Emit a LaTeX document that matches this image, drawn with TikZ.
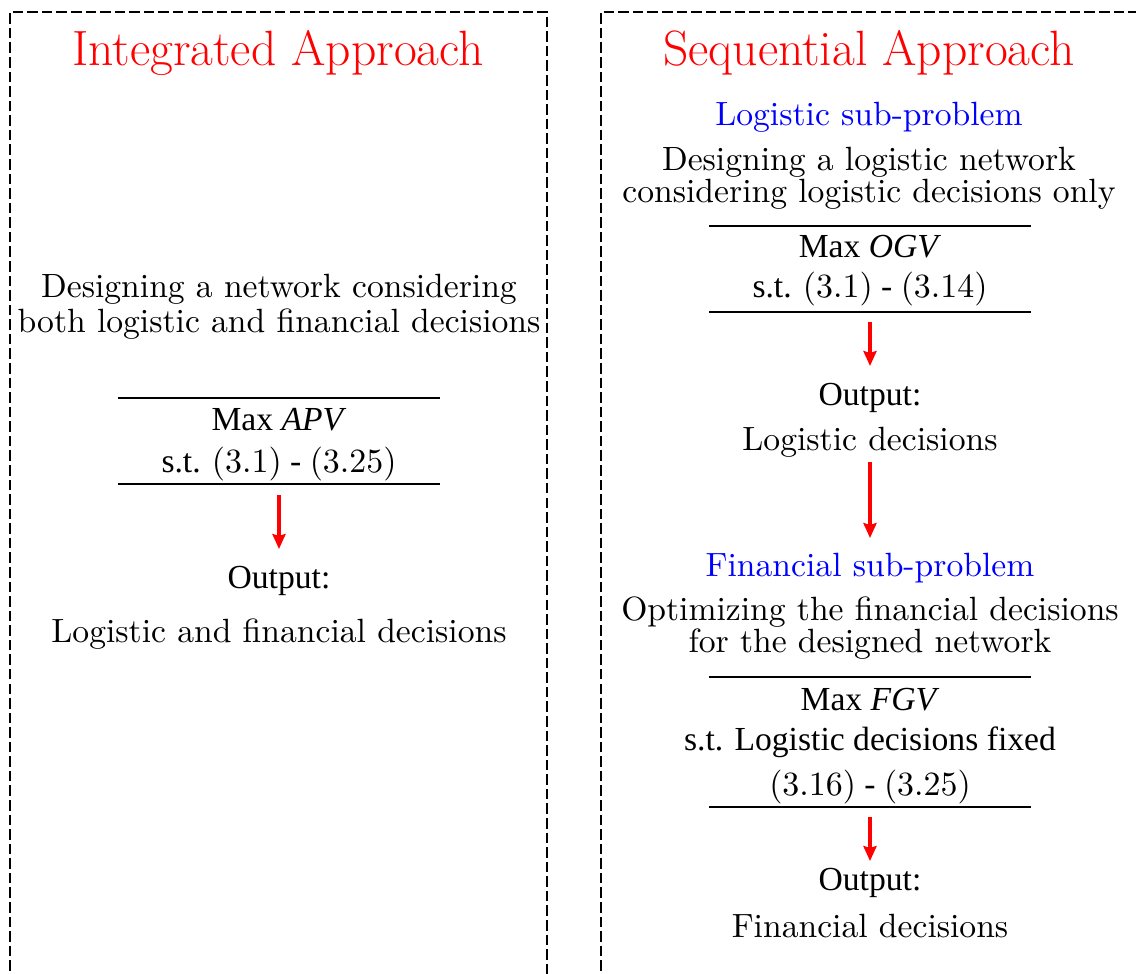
\documentclass[tikz,border=0pt]{standalone}
\usepackage{fontspec}
\newfontfamily\tms{Liberation Serif}
\usetikzlibrary{arrows.meta}
\tikzset{
  frame/.style={draw=black, line width=0.85pt, dash pattern=on 3.4pt off 1.3pt},
  ttl/.style={anchor=base, text=red, font=\fontsize{16}{19}\selectfont, inner sep=0pt},
  sub/.style={anchor=base, text=blue, font=\fontsize{10.85}{12}\selectfont, inner sep=0pt},
  txt/.style={anchor=base, font=\fontsize{10.85}{12}\selectfont, inner sep=0pt},
  ttxt/.style={anchor=base, font=\fontsize{10.85}{12}\selectfont\tms, inner sep=0pt},
  rule/.style={draw=black, line width=0.75pt},
  redarrow/.style={draw=red, line width=1.05pt, -{Stealth[length=4.8pt,width=4.2pt,inset=0.6pt]}}
}
\begin{document}
\begin{tikzpicture}[x=0.3226pt, y=-0.3226pt]
\useasboundingbox (0,0) rectangle (1136,974);
\clip (0,0) rectangle (1136,974);
% frames
\draw[frame] (10,1000) -- (10,12) -- (547,12) -- (547,1000);
\draw[frame] (601,1000) -- (601,12) -- (1138,12) -- (1138,1000);

% ---------- left column ----------
\node[ttl] (lt) at (278,66) {Integrated Approach};
\node[txt] (ld1) at (279,298) {Designing a network considering};
\node[txt] (ld2) at (279,332) {both logistic and financial decisions};
\coordinate (lr1a) at (118,398); \coordinate (lr1b) at (440,398);
\draw[rule] (lr1a) -- (lr1b);
\node[ttxt] (lm1) at (279,430) {Max \textit{APV}};
\node[ttxt] (lm2) at (279,472) {s.t. $(3.1)$ - $(3.25)$};
\coordinate (lr2a) at (118,484); \coordinate (lr2b) at (440,484);
\draw[rule] (lr2a) -- (lr2b);
\coordinate (la1) at (279,495); \coordinate (la2) at (279,549);
\draw[redarrow] (la1) -- (la2);
\node[ttxt] (lo1) at (279,588) {Output:};
\node[txt] (lo2) at (279,642) {Logistic and financial decisions};

% ---------- right column ----------
\node[ttl] (rt) at (869,66) {Sequential Approach};
\node[sub] (rs1) at (869,126) {Logistic sub-problem};
\node[txt] (rd1) at (869,170) {Designing a logistic network};
\node[txt] (rd2) at (869,202) {considering logistic decisions only};
\coordinate (rr1a) at (709,226); \coordinate (rr1b) at (1031,226);
\draw[rule] (rr1a) -- (rr1b);
\node[ttxt] (rm1) at (870,258) {Max \textit{OGV}};
\node[ttxt] (rm2) at (870,298) {s.t. $(3.1)$ - $(3.14)$};
\coordinate (rr2a) at (709,312); \coordinate (rr2b) at (1031,312);
\draw[rule] (rr2a) -- (rr2b);
\coordinate (ra1) at (870,322); \coordinate (ra2) at (870,366);
\draw[redarrow] (ra1) -- (ra2);
\node[ttxt] (ro1) at (870,405) {Output:};
\node[txt] (ro2) at (870,451) {Logistic decisions};
\coordinate (ra3) at (870,462); \coordinate (ra4) at (870,538);
\draw[redarrow] (ra3) -- (ra4);
\node[sub] (rs2) at (870,576) {Financial sub-problem};
\node[txt] (rd3) at (870,620) {Optimizing the financial decisions};
\node[txt] (rd4) at (870,652) {for the designed network};
\coordinate (rr3a) at (709,677); \coordinate (rr3b) at (1031,677);
\draw[rule] (rr3a) -- (rr3b);
\node[ttxt] (rm3) at (870,710) {Max \textit{FGV}};
\node[ttxt] (rm4) at (870,750) {s.t. Logistic decisions fixed};
\node[ttxt] (rm5) at (870,795) {$(3.16)$ - $(3.25)$};
\coordinate (rr4a) at (709,807); \coordinate (rr4b) at (1031,807);
\draw[rule] (rr4a) -- (rr4b);
\coordinate (ra5) at (870,817); \coordinate (ra6) at (870,861);
\draw[redarrow] (ra5) -- (ra6);
\node[ttxt] (ro3) at (870,890) {Output:};
\node[txt] (ro4) at (870,937) {Financial decisions};
\end{tikzpicture}
\end{document}
